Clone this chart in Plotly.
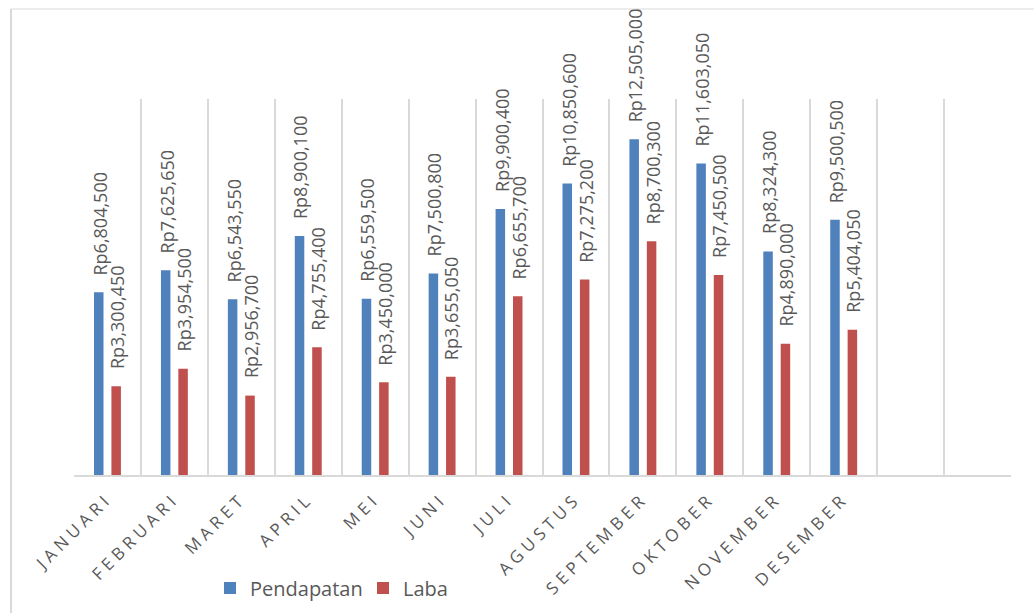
import plotly.graph_objects as go

# Monthly revenue (Pendapatan) and profit (Laba), in Rupiah
months = ["JANUARI", "FEBRUARI", "MARET", "APRIL", "MEI", "JUNI", "JULI",
          "AGUSTUS", "SEPTEMBER", "OKTOBER", "NOVEMBER", "DESEMBER"]
spare_slots = [" ", "  "]
pendapatan = [6804500, 7625650, 6543550, 8900100, 6559500, 7500800, 9900400,
              10850600, 12505000, 11603050, 8324300, 9500500]
laba = [3300450, 3954500, 2956700, 4755400, 3450000, 3655050, 6655700,
        7275200, 8700300, 7450500, 4890000, 5404050]

BLUE = "#4F81BD"
RED = "#C0504D"
TEXT = "#595959"
GRID = "#D9D9D9"
FONT = "Open Sans"

W, H = 1034, 613
ML, MR, MT, MB = 74, 23, 99, 138
pw, ph = W - ML - MR, H - MT - MB


def rupiah(v):
    return f"Rp{v:,}"


fig = go.Figure()
fig.add_trace(go.Bar(name="Pendapatan", x=months, y=pendapatan,
                     marker=dict(color=BLUE, line=dict(width=0))))
fig.add_trace(go.Bar(name="Laba", x=months, y=laba,
                     marker=dict(color=RED, line=dict(width=0))))

# rotated value labels sitting above each bar
annotations = []
for series, shift in ((pendapatan, -8.7), (laba, 8.7)):
    for m, v in zip(months, series):
        annotations.append(dict(
            x=m, y=v, xref="x", yref="y", text=rupiah(v),
            textangle=-90, showarrow=False, xanchor="center", yanchor="bottom",
            xshift=shift + 1, yshift=15,
            font=dict(family=FONT, size=18, color=TEXT)))

# chart-area frame (top and left edges)
to_px_x = lambda px: (px - ML) / pw
to_px_y = lambda py: (H - MB - py) / ph
shapes = [
    dict(type="line", xref="paper", yref="paper", x0=to_px_x(11), x1=to_px_x(1040),
         y0=to_px_y(9), y1=to_px_y(9), line=dict(color=GRID, width=1.2)),
    dict(type="line", xref="paper", yref="paper", x0=to_px_x(11), x1=to_px_x(11),
         y0=to_px_y(9), y1=to_px_y(620), line=dict(color=GRID, width=2)),
]

fig.update_layout(
    width=W, height=H,
    margin=dict(l=ML, r=MR, t=MT, b=MB, pad=0, autoexpand=False),
    paper_bgcolor="white", plot_bgcolor="white",
    barmode="group", bargap=0.48, bargroupgap=0.454,
    font=dict(family=FONT, color=TEXT),
    xaxis=dict(type="category", categoryorder="array",
               categoryarray=months + spare_slots,
               range=[-0.5, len(months) + len(spare_slots) - 0.5],
               tickson="boundaries", ticks="", showgrid=True,
               gridcolor=GRID, gridwidth=1.5, automargin=False,
               showline=True, linecolor=GRID, linewidth=2,
               ticklabelstandoff=5,
               tickangle=-45, tickfont=dict(family=FONT, size=17, color=TEXT)),
    yaxis=dict(range=[0, 14000000], visible=False, showgrid=False,
               zeroline=False, automargin=False),
    legend=dict(orientation="h", x=to_px_x(210), xanchor="left",
                y=to_px_y(588), yanchor="middle", bgcolor="rgba(0,0,0,0)",
                font=dict(family=FONT, size=20, color=TEXT),
                entrywidth=108, entrywidthmode="pixels", itemwidth=30),
    annotations=annotations,
    shapes=shapes,
)

# widen the letter spacing of the month labels
spacing_js = ("document.querySelectorAll('.xtick text').forEach(function(t)"
              "{t.style.letterSpacing='4.6px';});")
fig.write_html("out.html", post_script=spacing_js)
